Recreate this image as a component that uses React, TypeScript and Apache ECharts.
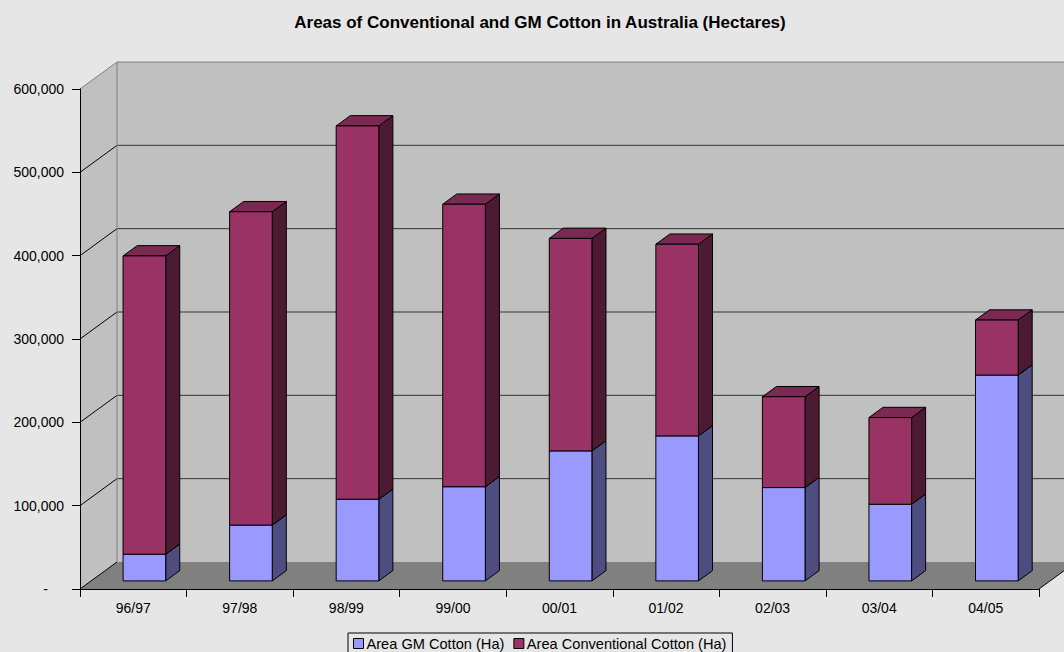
import React, { useEffect, useRef } from "react";
import * as echarts from "echarts";

const categories = ["96/97", "97/98", "98/99", "99/00", "00/01", "01/02", "02/03", "03/04", "04/05"];
const gmArea = [32000, 67000, 98000, 113000, 156000, 174000, 112000, 92000, 247000];
const conventionalArea = [358000, 376000, 448000, 339000, 255000, 230000, 109000, 104000, 66000];
const seriesNames = ["Area GM Cotton (Ha)", "Area Conventional Cotton (Ha)"];
const yMin = 0;
const yMax = 600000;
const yInterval = 100000;
const titleText = "Areas of Conventional and GM Cotton in Australia (Hectares)";

const FONT = "'Liberation Sans', Arial, sans-serif";
// depth offsets of the 3D box
const DX = 37;
const DY = -27;
const BAR_FRONT = 0.3;
const BAR_BACK = 0.68;

const GM_COLORS = { front: "#9999ff", side: "#4d4d80", top: "#7a7acc" };
const CONV_COLORS = { front: "#993366", side: "#4d1a33", top: "#7a2952" };

function makeBarRender(colors: { front: string; side: string; top: string }) {
  return (params: any, api: any) => {
    const idx = api.value(0);
    const base = api.value(1);
    const top = api.value(2);
    const pb = api.coord([idx, base]);
    const pt = api.coord([idx, top]);
    const bw = api.size([1, 0])[0] * 0.4;
    const fx = DX * BAR_FRONT;
    const fy = DY * BAR_FRONT;
    const dx = DX * (BAR_BACK - BAR_FRONT);
    const dy = DY * (BAR_BACK - BAR_FRONT);
    const left = pb[0] - bw / 2 + fx;
    const right = left + bw;
    const yb = pb[1] + fy;
    const yt = pt[1] + fy;
    const stroke = { stroke: "#000", lineWidth: 1, lineJoin: "miter" };
    return {
      type: "group",
      children: [
        {
          type: "polygon",
          shape: { points: [[right, yt], [right + dx, yt + dy], [right + dx, yb + dy], [right, yb]] },
          style: { fill: colors.side, ...stroke },
        },
        {
          type: "polygon",
          shape: { points: [[left, yt], [left + dx, yt + dy], [right + dx, yt + dy], [right, yt]] },
          style: { fill: colors.top, ...stroke },
        },
        {
          type: "rect",
          shape: { x: left, y: yt, width: bw, height: yb - yt },
          style: { fill: colors.front, ...stroke },
        },
      ],
    };
  };
}

function wallsRender(params: any, api: any) {
  const cs = params.coordSys;
  const x = cs.x;
  const y = cs.y;
  const w = cs.width;
  const h = cs.height;
  const children: any[] = [];
  children.push({
    type: "polygon",
    shape: { points: [[x, y], [x + DX, y + DY], [x + DX, y + h + DY], [x, y + h]] },
    style: { fill: "#c0c0c0", stroke: null },
  });
  children.push({
    type: "rect",
    shape: { x: x + DX, y: y + DY, width: w, height: h },
    style: { fill: "#c0c0c0", stroke: null },
  });
  children.push({
    type: "polygon",
    shape: { points: [[x, y + h], [x + w, y + h], [x + w + DX, y + h + DY], [x + DX, y + h + DY]] },
    style: { fill: "#808080", stroke: null },
  });
  for (let v = yMin; v <= yMax; v += yInterval) {
    const yy = api.coord([0, v])[1];
    const isTop = v === yMax;
    if (v !== yMin) {
      children.push({
        type: "line",
        shape: { x1: x + DX, y1: yy + DY, x2: x + DX + w, y2: yy + DY },
        style: { stroke: isTop ? "#808080" : "#333333", lineWidth: 1 },
      });
    }
    children.push({
      type: "line",
      shape: { x1: x, y1: yy, x2: x + DX, y2: yy + DY },
      style: { stroke: isTop ? "#808080" : "#000000", lineWidth: 1 },
    });
  }
  children.push({
    type: "line",
    shape: { x1: x + DX, y1: y + DY, x2: x + DX, y2: y + h + DY },
    style: { stroke: "#808080", lineWidth: 1 },
  });
  children.push({
    type: "line",
    shape: { x1: x + w, y1: y + h, x2: x + w + DX, y2: y + h + DY },
    style: { stroke: "#000", lineWidth: 1 },
  });
  return { type: "group", children };
}

export default function App() {
  const ref = useRef<HTMLDivElement>(null);
  useEffect(() => {
    if (!ref.current) return;
    const chart = echarts.init(ref.current, null, { renderer: "svg" });
    const gmData = categories.map((c, i) => [i, 0, gmArea[i]]);
    const convData = categories.map((c, i) => [i, gmArea[i], gmArea[i] + conventionalArea[i]]);
    chart.setOption({
      animation: false,
      backgroundColor: "#e6e6e6",
      textStyle: { fontFamily: FONT },
      graphic: [
        {
          type: "text",
          x: 540,
          y: 22,
          style: {
            text: titleText,
            fontFamily: FONT,
            fontSize: 17,
            fontWeight: "bold",
            fill: "#000",
            textAlign: "center",
            textVerticalAlign: "middle",
          },
        },
      ],
      grid: { left: 80, right: 25, top: 89, bottom: 63 },
      legend: {
        data: seriesNames,
        left: 348,
        top: 633,
        orient: "horizontal",
        icon: "rect",
        itemWidth: 10,
        itemHeight: 10,
        itemGap: 9,
        padding: [3, 6, 4, 5],
        borderColor: "#000",
        borderWidth: 1,
        itemStyle: { borderColor: "#000", borderWidth: 1 },
        textStyle: { fontFamily: FONT, fontSize: 14.6, color: "#000", padding: [0, 0, 0, -2] },
      },
      xAxis: {
        type: "category",
        data: categories,
        boundaryGap: true,
        z: 3,
        axisLine: { lineStyle: { color: "#000", width: 1 } },
        axisTick: { show: true, length: 8, lineStyle: { color: "#000" } },
        axisLabel: { fontFamily: FONT, fontSize: 14, color: "#000", margin: 12 },
        splitLine: { show: false },
      },
      yAxis: {
        type: "value",
        min: yMin,
        max: yMax,
        interval: yInterval,
        z: 3,
        axisLine: { show: true, lineStyle: { color: "#000", width: 1 } },
        axisTick: { show: true, length: 8, lineStyle: { color: "#000" } },
        axisLabel: {
          fontFamily: FONT,
          fontSize: 14,
          color: "#000",
          margin: 16,
          formatter: (v: number) => (v === 0 ? "{d|-}" : v.toLocaleString("en-US")),
          rich: { d: { fontFamily: FONT, fontSize: 14, color: "#000", padding: [0, 16, 0, 0] } },
        },
        splitLine: { show: false },
      },
      series: [
        {
          type: "custom",
          name: "walls",
          z: 1,
          clip: false,
          silent: true,
          renderItem: wallsRender,
          data: [[0, 0]],
          encode: { x: 0, y: 1 },
        },
        {
          type: "custom",
          name: seriesNames[0],
          z: 2,
          clip: false,
          itemStyle: { color: GM_COLORS.front, borderColor: "#000", borderWidth: 1 },
          renderItem: makeBarRender(GM_COLORS),
          data: gmData,
          encode: { x: 0, y: [1, 2] },
        },
        {
          type: "custom",
          name: seriesNames[1],
          z: 2,
          clip: false,
          itemStyle: { color: CONV_COLORS.front, borderColor: "#000", borderWidth: 1 },
          renderItem: makeBarRender(CONV_COLORS),
          data: convData,
          encode: { x: 0, y: [1, 2] },
        },
      ],
    });
    return () => chart.dispose();
  }, []);
  return (
    <div
      ref={ref}
      style={{ position: "absolute", left: 0, top: 0, width: 1064, height: 652 }}
    />
  );
}
